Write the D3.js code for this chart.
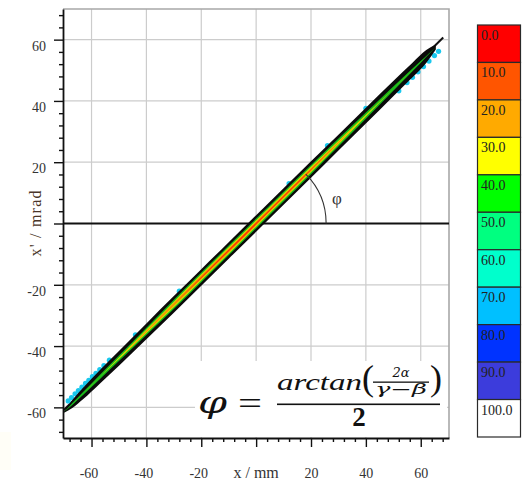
<!DOCTYPE html>
<html><head><meta charset="utf-8">
<script src="https://cdn.jsdelivr.net/npm/d3@7"></script>
<style>
body{margin:0;background:#fff;}
svg{display:block;}
text{font-family:"Liberation Serif","Times New Roman",serif;}
</style>
</head><body>
<svg id="chart" width="529" height="483"></svg>
<script>
// ---------- data ----------
const xMajorTicks = [-60, -40, -20, 0, 20, 40, 60];
const yMajorTicks = [-60, -40, -20, 0, 20, 40, 60];
const xMinorTicks = [-68,-64,-56,-52,-48,-44,-36,-32,-28,-24,-16,-12,-8,-4,4,8,12,16,24,28,32,36,44,48,52,56,64,68];
const yMinorTicks = [-68,-64,-56,-52,-48,-44,-36,-32,-28,-24,-16,-12,-8,-4,4,8,12,16,24,28,32,36,44,48,52,56,64,68];
const xTitle = "x / mm";
const yTitle = "x' / mrad";

// fitted straight line (mm, mrad)
const lineX = [-70.2, 68.2];
const lineY = [-60.9, 60.7];

// beam band: stations along x, centre y and half-heights (mrad) of each contour level
const bandX    = [-70, -67, -63, -57, -50, -40, -30, -20, -10, 0, 10, 20, 30, 40, 50, 57, 62, 65.5];
const bandY    = [-61.5, -58.9, -55.4, -50.1, -44.0, -35.2, -26.4, -17.6, -8.8, 0, 8.8, 17.6, 26.4, 35.2, 44.0, 50.1, 54.5, 57.6];
const blackHW  = [0.3, 1.3, 1.9, 2.2, 2.4, 2.6, 2.7, 2.7, 2.7, 2.7, 2.7, 2.7, 2.6, 2.6, 2.5, 2.4, 2.1, 0.8];
const greenHW  = [0, 0.3, 0.5, 0.7, 0.9, 1.2, 1.5, 1.6, 1.6, 1.6, 1.6, 1.5, 1.3, 1.0, 0.7, 0.45, 0.2, 0];
const yellowHW = [0, 0, 0, 0, 0.25, 0.6, 0.9, 1.0, 1.05, 1.05, 1.0, 0.9, 0.6, 0.3, 0, 0, 0, 0];
const orangeHW = [0, 0, 0, 0, 0, 0.2, 0.45, 0.6, 0.65, 0.65, 0.6, 0.45, 0.2, 0, 0, 0, 0, 0];
const redHW    = [0, 0, 0, 0, 0, 0, 0, 0.15, 0.25, 0.25, 0.2, 0.1, 0, 0, 0, 0, 0, 0];

// halo specks (70 % level) at the edges of the band
const cyanX = [-68.5, -67.3, -66, -64.8, -63.5, -62.2, -61, -59.7, -58.4, -57, -55.5, -53.5, -44, -28, 12, 26, 40, 52, 55, 57, 59, 61, 63, 65, 66.5];
const cyanY = [-57.9, -56.8, -55.6, -54.5, -53.4, -52.2, -51.2, -50.0, -48.9, -47.7, -46.4, -44.6, -36.3, -22.1, 13.0, 25.4, 37.6, 43.3, 46.0, 47.7, 49.5, 51.2, 53.0, 54.8, 56.2];

// colour bar
const cbLabels = ["0.0","10.0","20.0","30.0","40.0","50.0","60.0","70.0","80.0","90.0","100.0"];
const cbColors = ["#ff0000","#ff5500","#ffaa00","#ffff00","#00ff00","#00ff80","#00ffcc","#00c0ff","#0033ff","#3c3cdc","#ffffff"];

// ---------- drawing ----------
const svg = d3.select("#chart");
const x = d3.scaleLinear().domain([-70.4, 70.3]).range([63, 449]);
const y = d3.scaleLinear().domain([-70, 70]).range([438, 9]);
const [x0, x1] = x.range();
const [yb, yt] = y.range();

// faint cream patch bottom-left
svg.append("rect").attr("x", 0).attr("y", 432).attr("width", 11).attr("height", 38).attr("fill", "#fffef7");

// grid
const grid = svg.append("g").attr("stroke", "#cccccc").attr("stroke-width", 1.2);
grid.selectAll("line.v").data(xMajorTicks).join("line")
  .attr("x1", d => x(d)).attr("x2", d => x(d)).attr("y1", yt).attr("y2", yb);
grid.selectAll("line.h").data(yMajorTicks.filter(d => d !== 0)).join("line")
  .attr("y1", d => y(d)).attr("y2", d => y(d)).attr("x1", x0).attr("x2", x1);

// top/right frame
svg.append("path").attr("d", `M${x0},${yt}H${x1}V${yb}`).attr("fill", "none")
  .attr("stroke", "#a8a8a8").attr("stroke-width", 1.6);

// zero line
svg.append("line").attr("x1", x0).attr("x2", x1).attr("y1", y(0)).attr("y2", y(0))
  .attr("stroke", "#111").attr("stroke-width", 2);

// fitted line
svg.append("line").attr("x1", x(lineX[0])).attr("y1", y(lineY[0]))
  .attr("x2", x(lineX[1])).attr("y2", y(lineY[1]))
  .attr("stroke", "#111").attr("stroke-width", 2);

// cyan halo specks
svg.append("g").selectAll("circle").data(cyanX).join("circle")
  .attr("cx", (d, i) => x(d)).attr("cy", (d, i) => y(cyanY[i])).attr("r", 2.6)
  .attr("fill", "#19c8ee");

// band
const levels = [
  {hw: blackHW, color: "#0a0a0a"},
  {hw: greenHW, color: "#1ab81a"},
  {hw: yellowHW, color: "#dede00"},
  {hw: orangeHW, color: "#f59400"},
  {hw: redHW, color: "#ff2a00"}
];
levels.forEach(lv => {
  const pts = bandX.map((bx, i) => ({x: bx, c: bandY[i], h: lv.hw[i]}));
  const area = d3.area()
    .x(d => x(d.x)).y0(d => y(d.c - d.h)).y1(d => y(d.c + d.h))
    .curve(d3.curveMonotoneX);
  svg.append("path").datum(pts).attr("d", area).attr("fill", lv.color);
});

// axes
const axFont = g => g.selectAll("text").style("font-family", "'Liberation Serif', serif").attr("font-size", 14).attr("fill", "#333");
const xAxis = svg.append("g").attr("transform", `translate(0,${yb})`)
  .call(d3.axisBottom(x).tickValues(xMajorTicks).tickSizeInner(9).tickSizeOuter(0).tickPadding(21)
    .tickFormat(d => d === 0 ? "" : d));
xAxis.call(axFont);
xAxis.selectAll("text").attr("dx", d => d < 0 ? -3 : 0);
svg.append("g").attr("transform", `translate(0,${yb})`)
  .call(d3.axisBottom(x).tickValues(xMinorTicks).tickSize(4).tickFormat(""))
  .select(".domain").remove();

const yAxis = svg.append("g").attr("transform", `translate(${x0},0)`)
  .call(d3.axisLeft(y).tickValues(yMajorTicks).tickSizeInner(9).tickSizeOuter(0).tickPadding(8)
    .tickFormat(d => d === 0 ? "" : d));
yAxis.call(axFont);
yAxis.selectAll("text").attr("dy", "0.75em");
svg.append("g").attr("transform", `translate(${x0},0)`)
  .call(d3.axisLeft(y).tickValues(yMinorTicks).tickSize(4).tickFormat(""))
  .select(".domain").remove();
svg.selectAll(".domain").attr("stroke", "#111").attr("stroke-width", 1.8);
svg.selectAll(".tick line").attr("stroke", "#111").attr("stroke-width", 1.4);

// axis titles
svg.append("text").attr("x", x(0)).attr("y", 478).attr("text-anchor", "middle")
  .attr("font-size", 16).attr("fill", "#333").text(xTitle);
svg.append("text").attr("transform", `translate(41,${y(0)}) rotate(-90)`).attr("text-anchor", "middle")
  .attr("font-size", 16).attr("fill", "#4a3528").attr("textLength", 66).attr("lengthAdjust", "spacing").text(yTitle);

// angle arc
const cx = x(0), cy = y(0);
const ang = Math.atan2(cy - y(lineY[1]), x(lineX[1]) - cx);
const R = 70;
svg.append("path")
  .attr("d", `M${cx + R},${cy} A${R},${R} 0 0 0 ${cx + R * Math.cos(ang)},${cy - R * Math.sin(ang)}`)
  .attr("fill", "none").attr("stroke", "#333").attr("stroke-width", 1.1);
svg.append("text").attr("x", cx + R * Math.cos(ang / 2) + 16).attr("y", cy - R * Math.sin(ang / 2) + 7)
  .attr("text-anchor", "middle").attr("font-size", 17).attr("fill", "#333").text("φ");

// formula
svg.append("rect").attr("x", 195).attr("y", 361).attr("width", 252).attr("height", 76).attr("fill", "#fff");
const f = svg.append("g").attr("fill", "#111");
const mathFont = "'DejaVu Serif', serif";
f.append("text").attr("x", 198).attr("y", 413).attr("font-size", 30).attr("font-style", "italic")
  .style("font-family", mathFont)
  .attr("textLength", 29).attr("lengthAdjust", "spacingAndGlyphs").text("φ");
f.append("text").attr("x", 238).attr("y", 414).attr("font-size", 32)
  .attr("textLength", 24).attr("lengthAdjust", "spacingAndGlyphs").text("=");
f.append("text").attr("x", 277).attr("y", 390).attr("font-size", 24).attr("font-style", "italic")
  .attr("textLength", 85).attr("lengthAdjust", "spacingAndGlyphs").text("arctan");
f.append("text").attr("x", 362).attr("y", 390).attr("font-size", 36).text("(");
f.append("text").attr("x", 401).attr("y", 377).attr("font-size", 13).attr("font-style", "italic")
  .style("font-family", mathFont).attr("text-anchor", "middle").text("2α");
f.append("rect").attr("x", 373).attr("y", 381.5).attr("width", 56).attr("height", 1.3);
f.append("text").attr("x", 401).attr("y", 394).attr("font-size", 14).attr("font-style", "italic")
  .style("font-family", mathFont)
  .attr("text-anchor", "middle").attr("textLength", 52).attr("lengthAdjust", "spacingAndGlyphs").text("γ−β");
f.append("text").attr("x", 430).attr("y", 390).attr("font-size", 36).text(")");
f.append("rect").attr("x", 277).attr("y", 403.5).attr("width", 163).attr("height", 1.6);
f.append("text").attr("x", 359).attr("y", 426).attr("font-size", 27).attr("font-weight", "bold")
  .attr("text-anchor", "middle").text("2");

// colour bar
const cb = d3.scaleBand().domain(cbLabels).range([25, 437]).paddingInner(0);
const cbg = svg.append("g");
cbg.selectAll("rect").data(cbLabels).join("rect")
  .attr("x", 477.5).attr("y", d => cb(d)).attr("width", 43).attr("height", cb.bandwidth())
  .attr("fill", (d, i) => cbColors[i]).attr("stroke", "#2a2a2a").attr("stroke-width", 1.2);
cbg.selectAll("text").data(cbLabels).join("text")
  .attr("x", 481).attr("y", d => cb(d) + 15).attr("font-size", 14).attr("fill", "#222").text(d => d);
</script>
</body></html>
